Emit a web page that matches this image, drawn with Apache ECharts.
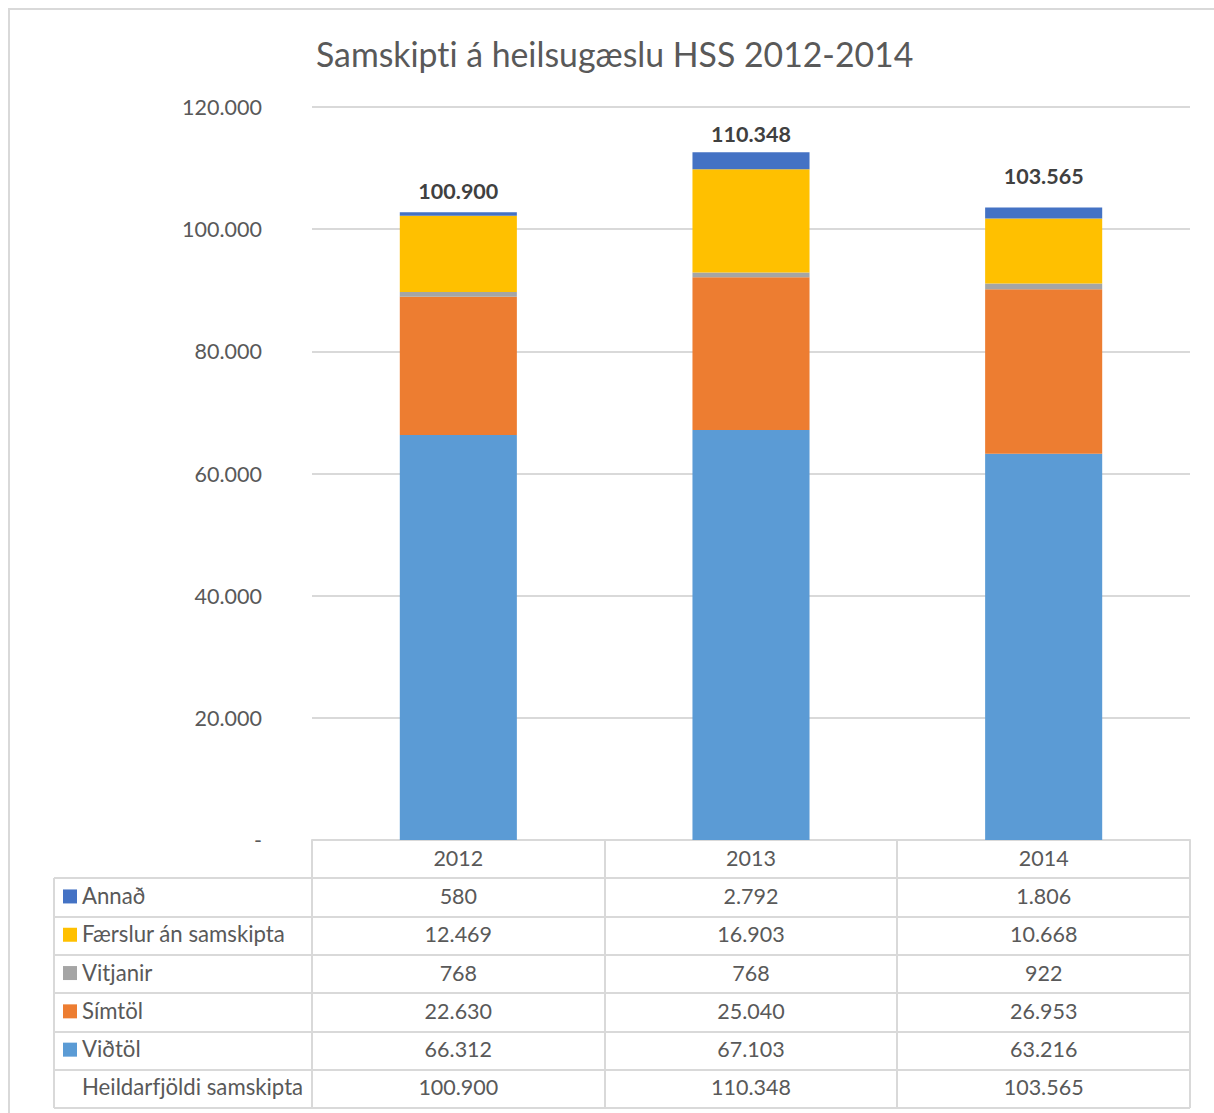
<!DOCTYPE html>
<html>
  <head>
    <meta charset="utf-8">
    <title>Samskipti á heilsugæslu HSS 2012-2014</title>
    <style media="screen">
    html,body {margin:0; padding:0; background:#fff;}
    #chart {width:1214px; height:1113px;}
    #chart text {font-variant-ligatures:none; font-feature-settings:"liga" 0, "clig" 0;}
    </style>
    <script src="https://cdn.jsdelivr.net/npm/echarts@6/dist/echarts.min.js" charset="utf-8"></script>
  </head>
  <body>
    <div id="chart"></div>
    <script>
    // gögn
    const years=['2012','2013','2014'];
    const vidtol=[66312, 67103, 63216];
    const simtol=[22630, 25040, 26953];
    const vitjanir=[768, 768, 922];
    const faerslur=[12469, 16903, 10668];
    const annad=[580, 2792, 1806];
    const heild=[100900, 110348, 103565];
    const yTicks=[0, 20000, 40000, 60000, 80000, 100000, 120000];

    // bil frá súlutoppi að heildarmerki (handstillt í upprunalegu)
    const labelGap=[10, 7, 20];

    const FONT='Lato';
    const FS=21.5;
    const TXT='#595959';
    const LINE='#D9D9D9';

    function fmt(v){
      return String(v).replace(/\B(?=(\d{3})+(?!\d))/g, '.');
    }

    // röð í töflu, efst til neðst
    const rows=[
      {name:'Annað', color:'#4472C4', data:annad},
      {name:'Færslur án samskipta', color:'#FFC000', data:faerslur},
      {name:'Vitjanir', color:'#A5A5A5', data:vitjanir},
      {name:'Símtöl', color:'#ED7D31', data:simtol},
      {name:'Viðtöl', color:'#5B9BD5', data:vidtol},
    ];
    const stackOrder=rows.slice().reverse();

    const GL=312, GR=24, GT=107, GB=273;
    const W=1214, H=1113;
    const ROW=38.3;
    const TABLE_LEFT=54;

    let chart=echarts.init(document.getElementById('chart'), null, {renderer:'svg'});

    let option={
      animation:false,
      title:{
        text:'Samskipti á heilsugæslu HSS 2012-2014',
        left:311, top:32,
        textStyle:{fontFamily:FONT, fontSize:33.8, fontWeight:'normal', color:TXT}
      },
      grid:{left:GL, right:GR, top:GT, bottom:GB, outerBoundsMode:'none', containLabel:false},
      xAxis:{
        type:'category',
        data:years,
        axisLine:{show:true, lineStyle:{color:LINE, width:2}},
        axisTick:{show:false},
        axisLabel:{fontFamily:FONT, fontSize:FS, color:TXT, margin:7, verticalAlign:'top'}
      },
      yAxis:{
        type:'value',
        min:yTicks[0], max:yTicks[yTicks.length-1], interval:20000,
        axisLine:{show:false},
        axisTick:{show:false},
        splitLine:{lineStyle:{color:LINE, width:2}},
        axisLabel:{
          fontFamily:FONT, fontSize:FS, color:TXT, margin:50,
          formatter:v=>v===0 ? '-' : fmt(v)
        }
      },
      series:stackOrder.map((r, i)=>{
        let top=i===stackOrder.length-1;
        return {
          name:r.name,
          type:'bar',
          stack:'alls',
          barWidth:'40%',
          itemStyle:{color:r.color},
          data:top ? r.data.map((v, j)=>({value:v, label:{distance:labelGap[j]}})) : r.data,
          label:top ? {
            show:true, position:'top',
            fontFamily:FONT, fontSize:FS, fontWeight:'bold', color:'#404040',
            formatter:p=>fmt(heild[p.dataIndex])
          } : {show:false}
        };
      })
    };
    chart.setOption(option);

    // taflan undir myndinni
    let g=[];
    let band=(W-GL-GR)/years.length;
    let y0=H-GB;
    let tableRows=rows.map(r=>({name:r.name, color:r.color, data:r.data}))
      .concat([{name:'Heildarfjöldi samskipta', color:null, data:heild}]);
    let yEnd=y0+ROW*(tableRows.length+1);

    // rammi utan um allt
    g.push({type:'rect', shape:{x:9, y:9, width:W, height:H}, style:{fill:null, stroke:LINE, lineWidth:2}, silent:true});

    // láréttar línur
    for(let k=1;k<=tableRows.length+1;k++){
      let y=Math.round(y0+ROW*k);
      g.push({type:'line', shape:{x1:TABLE_LEFT, y1:y, x2:W-GR, y2:y}, style:{stroke:LINE, lineWidth:2}});
    }
    // lóðréttar línur
    g.push({type:'line', shape:{x1:TABLE_LEFT, y1:Math.round(y0+ROW), x2:TABLE_LEFT, y2:yEnd}, style:{stroke:LINE, lineWidth:2}});
    for(let i=0;i<=years.length;i++){
      let x=Math.round(GL+band*i);
      g.push({type:'line', shape:{x1:x, y1:y0, x2:x, y2:yEnd}, style:{stroke:LINE, lineWidth:2}});
    }

    tableRows.forEach((r, k)=>{
      let cy=y0+ROW*(k+1)+ROW/2;
      if(r.color){
        g.push({type:'rect', shape:{x:63, y:cy-8, width:14, height:14}, style:{fill:r.color}});
      }
      g.push({type:'text', x:82, y:cy-2, style:{text:r.name, fontFamily:FONT, fontSize:22.2, fill:TXT, textAlign:'left', textVerticalAlign:'middle'}});
      r.data.forEach((v, i)=>{
        let cx=chart.convertToPixel({xAxisIndex:0}, years[i]);
        g.push({type:'text', x:cx, y:cy-1.5, style:{text:fmt(v), fontFamily:FONT, fontSize:FS, fill:TXT, textAlign:'center', textVerticalAlign:'middle'}});
      });
    });

    chart.setOption({graphic:g});
    </script>
  </body>
</html>
